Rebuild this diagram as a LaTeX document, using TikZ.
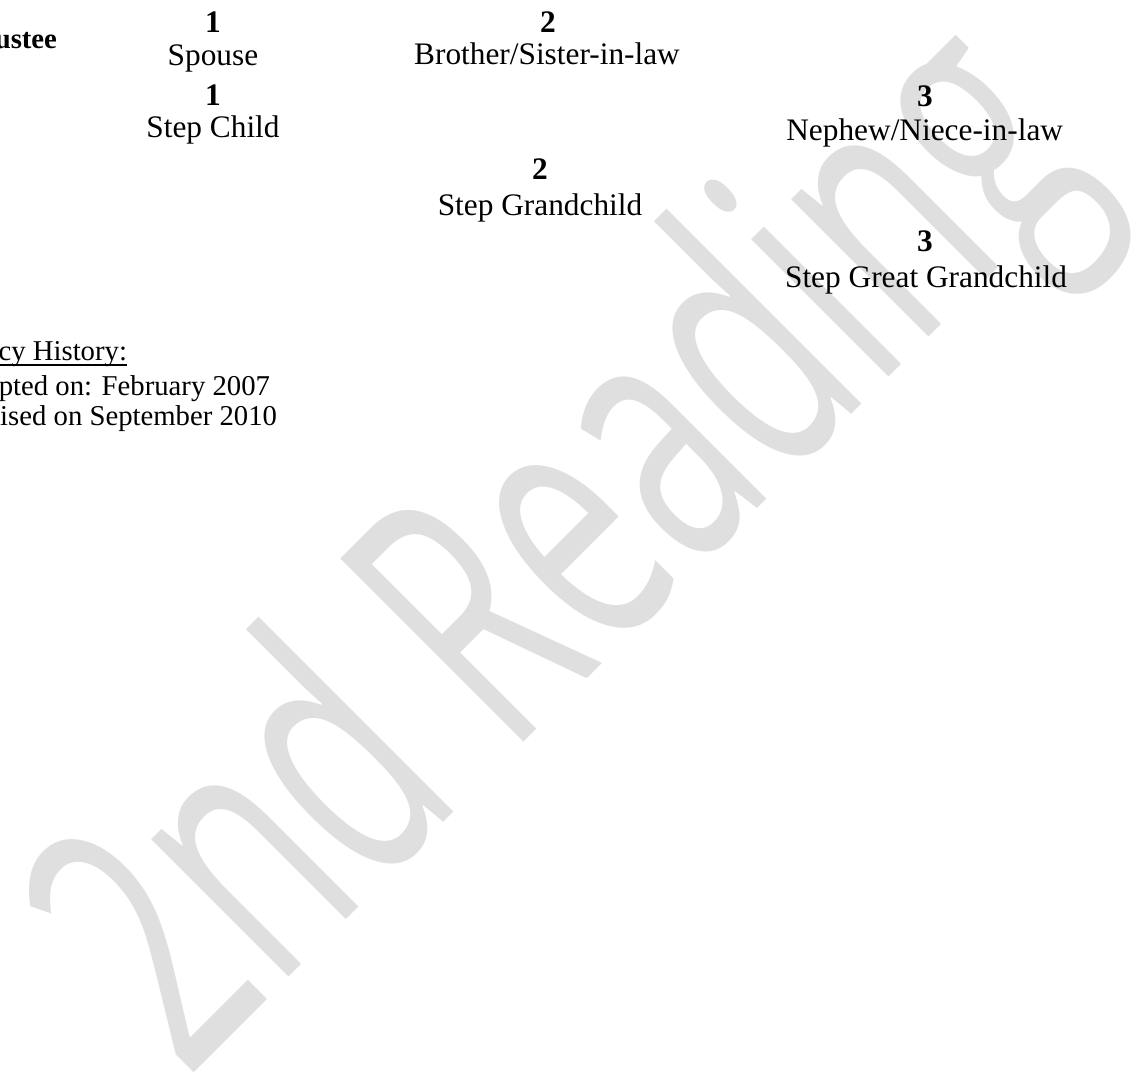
\documentclass[tikz,border=0pt]{standalone}
\usepackage{fontspec}
\setmainfont{Liberation Serif}
\newfontfamily\markfont{Open Sans}
\usetikzlibrary{positioning}
\definecolor{markgray}{RGB}{223,223,223}

\begin{document}
\begin{tikzpicture}[x=0.383pt,y=-0.383pt,
    every node/.append style = {inner sep=0pt, outer sep=0pt, font=\fontsize{12}{14}\selectfont},
    degree/.style = {anchor=base, font=\fontsize{12}{14}\selectfont\bfseries},
    relative/.style = {anchor=base},
    history/.style = {anchor=base east, font=\fontsize{11}{13}\selectfont}
  ]
  \useasboundingbox (0,0) rectangle (1143,1078);

  % watermark
  \node[anchor=base west, rotate=45, text=markgray] (mark) at (186,1080)
    {\scalebox{0.61}[1]{\markfont\fontsize{139}{139}\selectfont 2nd Reading}};

  \node[anchor=base east, font=\fontsize{11}{13}\selectfont\bfseries] (trustee) at (57,48) {ustee};

  \node[degree] (spouseDeg) at (213,32) {1};
  \node[relative] (spouse) at (213,65) {Spouse};
  \node[degree] (stepchildDeg) at (213,105) {1};
  \node[relative] (stepchild) at (213,137) {Step Child};

  \node[degree] (inlawDeg) at (548,32) {2};
  \node[relative] (inlaw) at (547,64) {Brother/Sister-in-law};
  \node[degree] (grandDeg) at (540,179) {2};
  \node[relative] (grand) at (540,215) {Step Grandchild};

  \node[degree] (nephewDeg) at (925,106) {3};
  \node[relative, anchor=base east] (nephew) at (1063,140) {Nephew/Niece-in-law};
  \node[degree] (greatDeg) at (925,251) {3};
  \node[relative, anchor=base east] (great) at (1067,287) {Step Great Grandchild};

  % policy history
  \node[history] (policy) at (127,360) {cy History:};
  \draw[line width=0.7pt] ([yshift=-2pt]policy.base west) -- ([yshift=-2pt]policy.base east);
  \node[history] (adopted) at (270,395) {pted on: February 2007};
  \node[history] (revised) at (277,425) {ised on September 2010};
\end{tikzpicture}
\end{document}
